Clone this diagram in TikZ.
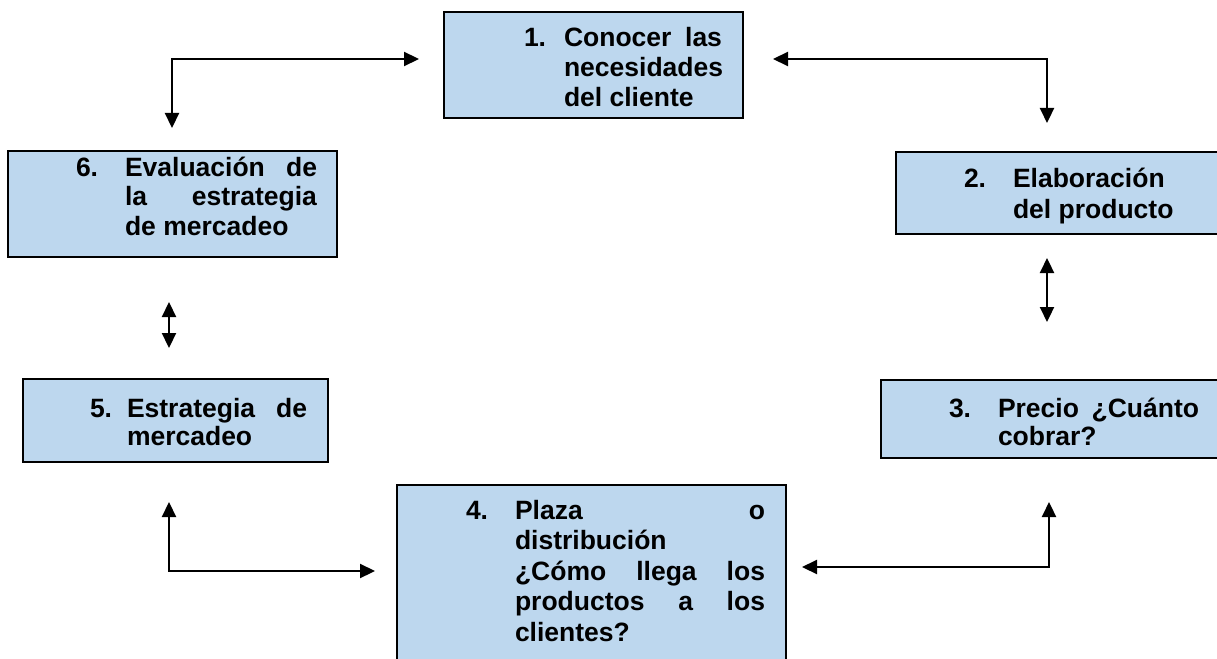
\documentclass[tikz,border=0pt]{standalone}
\usepackage{fontspec}
\setmainfont{Liberation Sans}
\usetikzlibrary{arrows.meta}
\definecolor{boxblue}{HTML}{BDD7EE}
\begin{document}
\begin{tikzpicture}[x={(1pt,0)},y={(0,-1pt)},
  box/.style={draw=black, line width=1.6pt, fill=boxblue, rectangle, inner sep=0pt, outer sep=0pt, anchor=north west},
  txt/.style={anchor=base west, inner sep=0pt, outer sep=0pt, align=justify,
    font=\fontsize{26.5}{29.5}\selectfont\bfseries},
  num/.style={anchor=base west, inner sep=0pt, outer sep=0pt,
    font=\fontsize{26.5}{29.5}\selectfont\bfseries},
  conn2/.style={line width=2.2pt, {Triangle[length=15pt,width=14pt]}-{Triangle[length=15pt,width=14pt]}}]
\useasboundingbox (0,0) rectangle (1217,658);
\clip (0,0) rectangle (1217,658);
\fill[white] (0,0) rectangle (1217,658);

% boxes
\node[box, minimum width=299pt, minimum height=106pt] (b1) at (444,12) {};
\node[box, minimum width=326pt, minimum height=82pt] (b2) at (896,152) {};
\node[box, minimum width=341pt, minimum height=78pt] (b3) at (881,380) {};
\node[box, minimum width=389pt, minimum height=190pt] (b4) at (397,485) {};
\node[box, minimum width=305pt, minimum height=83pt] (b5) at (23,379) {};
\node[box, minimum width=329pt, minimum height=106pt] (b6) at (8,151) {};

% texts
\node[num] (n1) at (524,47) {1.};
\node[txt, text width=158pt, font=\fontsize{26.5}{30}\selectfont\bfseries] (t1) at (564,47) {\hyphenpenalty=10000 Conocer las\linebreak necesidades\linebreak del cliente};

\node[num] (n2) at (964,187) {2.};
\node[txt, text width=172pt, font=\fontsize{26.5}{31}\selectfont\bfseries] (t2) at (1013,187) {\hyphenpenalty=10000 Elaboración\linebreak del producto};

\node[num] (n3) at (949,417) {3.};
\node[txt, text width=201pt, font=\fontsize{26.5}{28.5}\selectfont\bfseries] (t3) at (998,417) {\hyphenpenalty=10000 Precio ¿Cuánto\linebreak cobrar?};

\node[num] (n4) at (466,519) {4.};
\node[txt, text width=250pt, font=\fontsize{26.5}{30.5}\selectfont\bfseries] (t4) at (515,519) {\hyphenpenalty=10000 Plaza o\linebreak distribución\linebreak ¿Cómo llega los\linebreak productos a los\linebreak clientes?};

\node[num] (n5) at (90,417) {5.};
\node[txt, text width=180pt, font=\fontsize{26.5}{28.5}\selectfont\bfseries] (t5) at (127,417) {\hyphenpenalty=10000 Estrategia de\linebreak mercadeo};

\node[num] (n6) at (76,176) {6.};
\node[txt, text width=192pt] (t6) at (125,176) {\hyphenpenalty=10000 Evaluación de\linebreak la estrategia\linebreak de mercadeo};

% connector end points
\coordinate (a1v) at (172,128);
\coordinate (a1c) at (172,59);
\coordinate (a1h) at (419,59);
\coordinate (a2h) at (773,59);
\coordinate (a2c) at (1047,59);
\coordinate (a2v) at (1047,123);
\coordinate (a3t) at (1047,258);
\coordinate (a3b) at (1047,322);
\coordinate (a4t) at (169,302);
\coordinate (a4b) at (169,348);
\coordinate (a5v) at (169,502);
\coordinate (a5c) at (169,571);
\coordinate (a5h) at (375,571);
\coordinate (a6h) at (802,567);
\coordinate (a6c) at (1049,567);
\coordinate (a6v) at (1049,502);

\draw[conn2] (a1v) -- (a1c) -- (a1h);
\draw[conn2] (a2h) -- (a2c) -- (a2v);
\draw[conn2] (a3t) -- (a3b);
\draw[conn2] (a4t) -- (a4b);
\draw[conn2] (a5v) -- (a5c) -- (a5h);
\draw[conn2] (a6h) -- (a6c) -- (a6v);
\end{tikzpicture}
\end{document}
